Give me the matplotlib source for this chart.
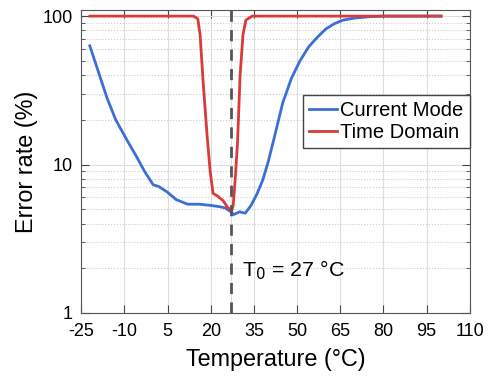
import matplotlib
matplotlib.use("Agg")
import matplotlib.pyplot as plt
from matplotlib.ticker import LogLocator, NullFormatter

plt.rcParams['font.family'] = ['Liberation Sans', 'DejaVu Sans']

# Current mode error rate (%)
cm_temp = [-22, -19, -16, -13, -9, -6, -3, 0, 2, 5, 8, 12, 16, 20, 23, 25, 27, 28, 30, 32, 34, 36, 38, 40, 42, 45, 48, 51, 54, 57, 60, 63, 66, 70, 75, 80, 90, 100]
cm_err = [63, 42, 28, 20, 14.5, 11.5, 9, 7.3, 7.1, 6.5, 5.8, 5.4, 5.4, 5.3, 5.2, 5.1, 4.8, 4.6, 4.8, 4.7, 5.3, 6.3, 7.8, 10.5, 15, 26, 38, 50, 62, 72, 82, 89, 94, 97, 99, 100, 100, 100]

# Time domain error rate (%)
td_temp = [-22, 0, 14, 15.5, 16.3, 17.4, 18.7, 19.8, 20.8, 22.5, 24.3, 26, 27.3, 27.8, 28.5, 29.3, 30.2, 31.2, 32.2, 34.4, 60, 100]
td_err = [100, 100, 100, 96, 75, 35, 16, 9, 6.4, 6.1, 5.7, 5.1, 4.9, 5.3, 8, 14, 40, 75, 94, 100, 100, 100]

xtick_vals = [-25, -10, 5, 20, 27, 35, 50, 65, 80, 95, 110]
xtick_labels = ['-25', '-10', '5', '20', '', '35', '50', '65', '80', '95', '110']
t0 = 27

fig = plt.figure(figsize=(4.92, 3.83), dpi=100)
ax = fig.add_axes([0.165, 0.183, 0.79, 0.791])

ax.plot(cm_temp, cm_err, color='#3a6fd8', lw=2, label='Current Mode')
ax.plot(td_temp, td_err, color='#d93a3a', lw=2, label='Time Domain')
ax.axvline(t0, color='#555555', ls=(0, (4, 3)), lw=2)

ax.set_yscale('log')
ax.set_xlim(-25, 110)
ax.set_ylim(1, 110)
ax.set_xticks(xtick_vals)
ax.set_xticklabels(xtick_labels)
ax.set_yticks([1, 10, 100])
ax.set_yticklabels(['1', '10', '100'])
ax.yaxis.set_minor_locator(LogLocator(base=10, subs=range(2, 10)))
ax.yaxis.set_minor_formatter(NullFormatter())

ax.grid(True, which='major', color='#dddddd', lw=0.8)
ax.grid(True, which='minor', axis='y', color='#cccccc', ls=':', lw=0.8)
ax.tick_params(which='both', direction='in', top=True, right=True, labelsize=13, color='#444444')
ax.tick_params(which='major', length=6)
ax.tick_params(which='minor', length=3)
ax.tick_params(axis='x', pad=7)
ax.tick_params(axis='y', pad=6)
for s in ax.spines.values():
    s.set_color('#555555')

ax.set_xlabel('Temperature (°C)', fontsize=16.8, labelpad=6)
ax.set_ylabel('Error rate (%)', fontsize=16.8, labelpad=3)

ax.text(31, 1.95, 'T$_0$ = 27 °C', fontsize=15.4, va='center')

leg = ax.legend(loc='upper left', bbox_to_anchor=(0.571, 0.72), fontsize=14.5,
                fancybox=False, framealpha=1, edgecolor='#444444',
                handlelength=1.4, handletextpad=0.15, borderpad=0.3,
                labelspacing=0.15, borderaxespad=0)
leg.get_frame().set_linewidth(1)

fig.savefig('out.png', dpi=100)
